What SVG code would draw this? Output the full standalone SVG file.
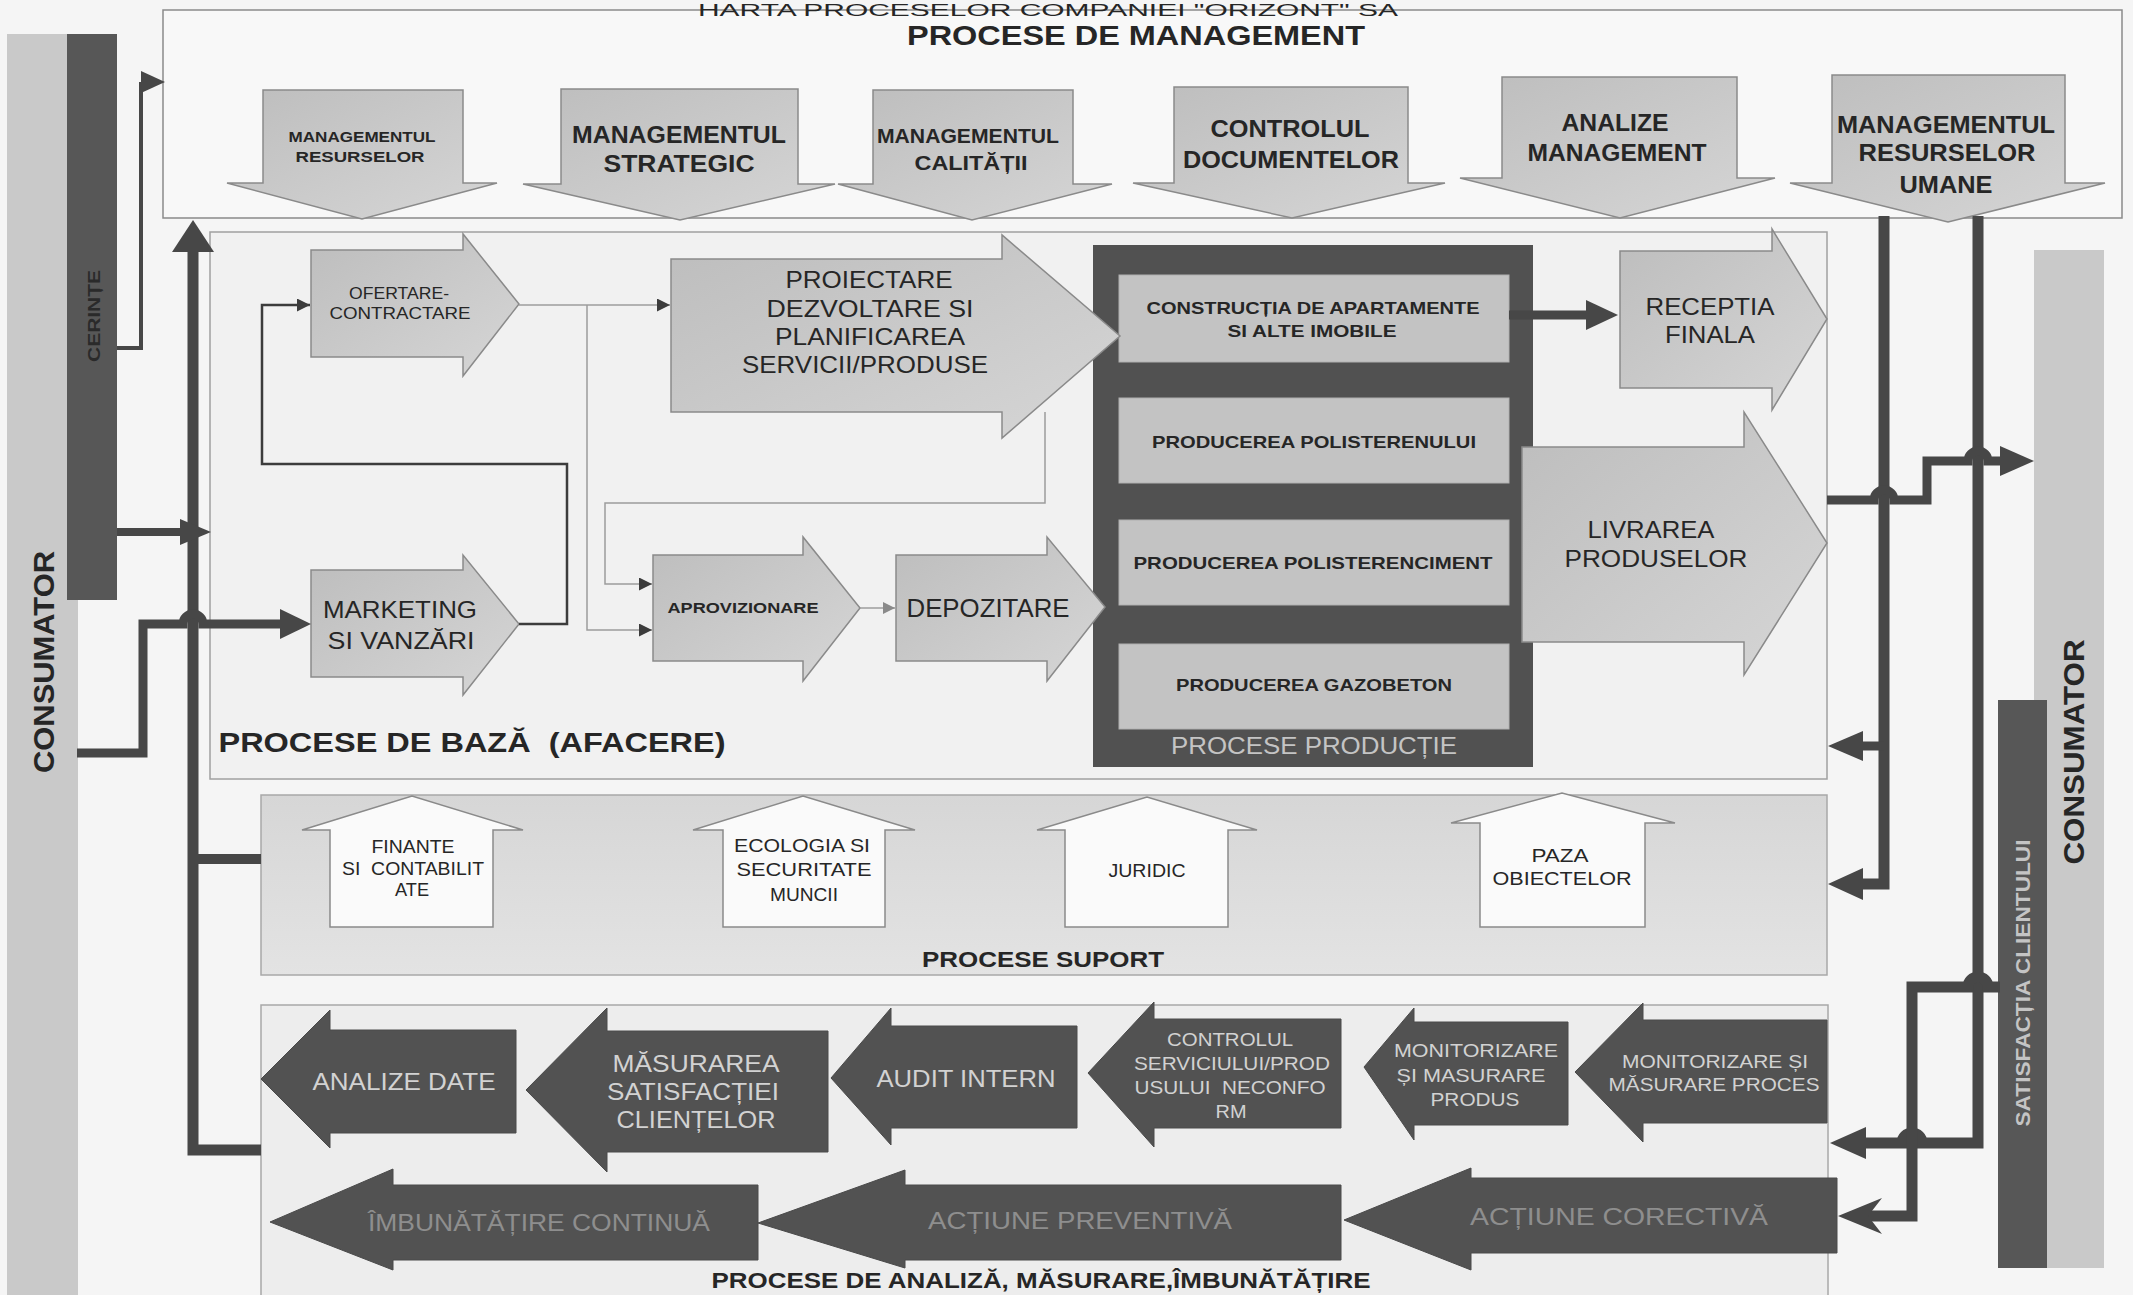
<svg xmlns="http://www.w3.org/2000/svg" width="2133" height="1295" viewBox="0 0 2133 1295">
<defs>
<style>
.t{font-family:"Liberation Sans",Arial,sans-serif;text-anchor:middle;fill:#262626}
.b{font-weight:bold}
.lt{fill:url(#gL);stroke:#8a8a8a;stroke-width:1.5}
.wt{fill:#fafafa;stroke:#8a8a8a;stroke-width:1.5}
.dk{fill:#525252;stroke:#4a4a4a;stroke-width:1}
.pb{fill:#c3c3c3;stroke:#b0b0b0;stroke-width:1}
.dt{fill:#d2d2d2}
.ft{fill:#8e8e8e}
.lg{fill:#c4c4c4}
.c{fill:none;stroke:#474747;stroke-linejoin:miter}
.ah{fill:#474747}
.thin{fill:none;stroke:#9c9c9c;stroke-width:1.5}
.thd{fill:none;stroke:#3c3c3c;stroke-width:2.5}
</style>
<linearGradient id="gL" x1="0" y1="0" x2="1" y2="1">
<stop offset="0" stop-color="#bdbdbd"/><stop offset="1" stop-color="#d6d6d6"/>
</linearGradient>
<linearGradient id="gS" x1="0" y1="0" x2="0" y2="1">
<stop offset="0" stop-color="#d6d6d6"/><stop offset="1" stop-color="#e3e3e3"/>
</linearGradient>
<marker id="mA" viewBox="0 0 10 10" refX="10" refY="5" markerWidth="13" markerHeight="13" markerUnits="userSpaceOnUse" orient="auto">
<path d="M0,0 L10,5 L0,10 z" fill="#3c3c3c"/>
</marker>
<marker id="mG" viewBox="0 0 10 10" refX="10" refY="5" markerWidth="12" markerHeight="12" markerUnits="userSpaceOnUse" orient="auto">
<path d="M0,0 L10,5 L0,10 z" fill="#8a8a8a"/>
</marker>
</defs>
<rect x="0" y="0" width="2133" height="1295" fill="#f5f5f5"/>

<!-- side strips -->
<g id="consumator-left">
<rect x="7" y="34" width="71" height="1261" fill="#c9c9c9"/>
<text class="t b" transform="translate(43,662) rotate(-90)" y="11" font-size="30" textLength="222" lengthAdjust="spacingAndGlyphs">CONSUMATOR</text>
</g>
<g id="cerinte">
<rect x="67" y="34" width="50" height="566" fill="#575757"/>
<text class="t b" transform="translate(94,316) rotate(-90)" y="6" font-size="17" textLength="92" lengthAdjust="spacingAndGlyphs" style="fill:#2a2a2a">CERINȚE</text>
</g>
<g id="consumator-right">
<rect x="2034" y="250" width="70" height="1018" fill="#c9c9c9"/>
<text class="t b" transform="translate(2073,752) rotate(-90)" y="11" font-size="30" textLength="225" lengthAdjust="spacingAndGlyphs">CONSUMATOR</text>
</g>
<g id="satisfactia">
<rect x="1998" y="700" width="49" height="568" fill="#575757"/>
<text class="t b lg" transform="translate(2023,983) rotate(-90)" y="7" font-size="20" textLength="287" lengthAdjust="spacingAndGlyphs">SATISFACȚIA CLIENTULUI</text>
</g>

<!-- management -->
<g id="management">
<rect x="163" y="10" width="1959" height="208" fill="#f8f8f8" stroke="#8a8a8a" stroke-width="1.5"/>
<text class="t" x="1048" y="16" font-size="17" textLength="700" lengthAdjust="spacingAndGlyphs">HARTA PROCESELOR COMPANIEI "ORIZONT" SA</text>
<text class="t b" x="1136" y="45" font-size="28" textLength="458" lengthAdjust="spacingAndGlyphs">PROCESE DE MANAGEMENT</text>
</g>
<g id="m-resurse">
<polygon class="lt" points="263,90 463,90 463,183 497,183 362,219 227,183 263,183"/>
<text class="t b" x="362" y="142" font-size="15" textLength="147" lengthAdjust="spacingAndGlyphs">MANAGEMENTUL</text>
<text class="t b" x="360" y="162" font-size="15" textLength="129" lengthAdjust="spacingAndGlyphs">RESURSELOR</text>
</g>
<g id="m-strategic">
<polygon class="lt" points="561,89 798,89 798,184 835,184 680,220 523,184 561,184"/>
<text class="t b" x="679" y="143" font-size="24" textLength="214" lengthAdjust="spacingAndGlyphs">MANAGEMENTUL</text>
<text class="t b" x="679" y="172" font-size="24" textLength="151" lengthAdjust="spacingAndGlyphs">STRATEGIC</text>
</g>
<g id="m-calitate">
<polygon class="lt" points="873,90 1073,90 1073,184 1112,184 972,220 838,184 873,184"/>
<text class="t b" x="968" y="143" font-size="21" textLength="182" lengthAdjust="spacingAndGlyphs">MANAGEMENTUL</text>
<text class="t b" x="971" y="170" font-size="21" textLength="113" lengthAdjust="spacingAndGlyphs">CALITĂȚII</text>
</g>
<g id="m-documente">
<polygon class="lt" points="1174,87 1408,87 1408,183 1445,183 1292,218 1133,183 1174,183"/>
<text class="t b" x="1290" y="137" font-size="24" textLength="159" lengthAdjust="spacingAndGlyphs">CONTROLUL</text>
<text class="t b" x="1291" y="168" font-size="24" textLength="216" lengthAdjust="spacingAndGlyphs">DOCUMENTELOR</text>
</g>
<g id="m-analize">
<polygon class="lt" points="1502,77 1737,77 1737,178 1775,178 1620,218 1460,178 1502,178"/>
<text class="t b" x="1615" y="131" font-size="24" textLength="107" lengthAdjust="spacingAndGlyphs">ANALIZE</text>
<text class="t b" x="1617" y="161" font-size="24" textLength="179" lengthAdjust="spacingAndGlyphs">MANAGEMENT</text>
</g>
<g id="m-umane">
<polygon class="lt" points="1832,75 2065,75 2065,183 2105,183 1948,222 1790,183 1832,183"/>
<text class="t b" x="1946" y="133" font-size="24" textLength="218" lengthAdjust="spacingAndGlyphs">MANAGEMENTUL</text>
<text class="t b" x="1947" y="161" font-size="24" textLength="177" lengthAdjust="spacingAndGlyphs">RESURSELOR</text>
<text class="t b" x="1946" y="193" font-size="24" textLength="93" lengthAdjust="spacingAndGlyphs">UMANE</text>
</g>

<!-- base processes -->
<g id="baza">
<rect x="210" y="232" width="1617" height="547" fill="#f1f1f1" stroke="#a0a0a0" stroke-width="1.5"/>
<text class="t b" x="472" y="752" font-size="28" textLength="507" lengthAdjust="spacingAndGlyphs">PROCESE DE BAZĂ&#160; (AFACERE)</text>
</g>
<g id="productie">
<rect x="1093" y="245" width="440" height="522" fill="#515151"/>
<text class="t lg" x="1314" y="754" font-size="24" textLength="286" lengthAdjust="spacingAndGlyphs">PROCESE PRODUCȚIE</text>
</g>
<g id="constructia">
<rect class="pb" x="1119" y="275" width="390" height="87"/>
<text class="t b" x="1313" y="314" font-size="17" textLength="333" lengthAdjust="spacingAndGlyphs">CONSTRUCȚIA DE APARTAMENTE</text>
<text class="t b" x="1312" y="337" font-size="17" textLength="169" lengthAdjust="spacingAndGlyphs">SI ALTE IMOBILE</text>
</g>
<g id="polisteren">
<rect class="pb" x="1119" y="398" width="390" height="85"/>
<text class="t b" x="1314" y="448" font-size="17" textLength="324" lengthAdjust="spacingAndGlyphs">PRODUCEREA POLISTERENULUI</text>
</g>
<g id="polisterenciment">
<rect class="pb" x="1119" y="520" width="390" height="85"/>
<text class="t b" x="1313" y="569" font-size="17" textLength="359" lengthAdjust="spacingAndGlyphs">PRODUCEREA POLISTERENCIMENT</text>
</g>
<g id="gazobeton">
<rect class="pb" x="1119" y="644" width="390" height="85"/>
<text class="t b" x="1314" y="691" font-size="17" textLength="276" lengthAdjust="spacingAndGlyphs">PRODUCEREA GAZOBETON</text>
</g>
<g id="ofertare">
<polygon class="lt" points="311,250 463,250 463,234 519,304 463,376 463,357 311,357"/>
<text class="t" x="399" y="299" font-size="17" textLength="100" lengthAdjust="spacingAndGlyphs">OFERTARE-</text>
<text class="t" x="400" y="319" font-size="17" textLength="141" lengthAdjust="spacingAndGlyphs">CONTRACTARE</text>
</g>
<g id="proiectare">
<polygon class="lt" points="671,259 1002,259 1002,235 1120,336 1002,438 1002,412 671,412"/>
<text class="t" x="869" y="288" font-size="24" textLength="167" lengthAdjust="spacingAndGlyphs">PROIECTARE</text>
<text class="t" x="870" y="317" font-size="24" textLength="207" lengthAdjust="spacingAndGlyphs">DEZVOLTARE SI</text>
<text class="t" x="870" y="345" font-size="24" textLength="190" lengthAdjust="spacingAndGlyphs">PLANIFICAREA</text>
<text class="t" x="865" y="373" font-size="24" textLength="246" lengthAdjust="spacingAndGlyphs">SERVICII/PRODUSE</text>
</g>
<g id="marketing">
<polygon class="lt" points="311,570 463,570 463,555 519,624 463,695 463,677 311,677"/>
<text class="t" x="400" y="618" font-size="24" textLength="154" lengthAdjust="spacingAndGlyphs">MARKETING</text>
<text class="t" x="401" y="649" font-size="24" textLength="147" lengthAdjust="spacingAndGlyphs">SI VANZĂRI</text>
</g>
<g id="aprovizionare">
<polygon class="lt" points="653,555 803,555 803,537 860,608 803,681 803,661 653,661"/>
<text class="t b" x="743" y="613" font-size="15" textLength="151" lengthAdjust="spacingAndGlyphs">APROVIZIONARE</text>
</g>
<g id="depozitare">
<polygon class="lt" points="896,555 1047,555 1047,537 1105,607 1047,681 1047,661 896,661"/>
<text class="t" x="988" y="617" font-size="25" textLength="163" lengthAdjust="spacingAndGlyphs">DEPOZITARE</text>
</g>
<g id="receptia">
<polygon class="lt" points="1620,251 1772,251 1772,229 1827,319 1772,410 1772,388 1620,388"/>
<text class="t" x="1710" y="315" font-size="24" textLength="129" lengthAdjust="spacingAndGlyphs">RECEPTIA</text>
<text class="t" x="1710" y="343" font-size="24" textLength="90" lengthAdjust="spacingAndGlyphs">FINALA</text>
</g>
<g id="livrarea">
<polygon class="lt" points="1522,447 1744,447 1744,412 1827,543 1744,675 1744,642 1522,642"/>
<text class="t" x="1651" y="538" font-size="24" textLength="127" lengthAdjust="spacingAndGlyphs">LIVRAREA</text>
<text class="t" x="1656" y="567" font-size="24" textLength="183" lengthAdjust="spacingAndGlyphs">PRODUSELOR</text>
</g>

<!-- support processes -->
<g id="suport">
<rect x="261" y="795" width="1566" height="180" fill="url(#gS)" stroke="#a8a8a8" stroke-width="1.5"/>
<text class="t b" x="1043" y="967" font-size="22" textLength="242" lengthAdjust="spacingAndGlyphs">PROCESE SUPORT</text>
</g>
<g id="finante">
<polygon class="wt" points="330,927 330,830 302,830 412,796 523,830 493,830 493,927"/>
<text class="t" x="413" y="853" font-size="18" textLength="83" lengthAdjust="spacingAndGlyphs">FINANTE</text>
<text class="t" x="413" y="875" font-size="18" textLength="142" lengthAdjust="spacingAndGlyphs">SI&#160; CONTABILIT</text>
<text class="t" x="412" y="896" font-size="18" textLength="34" lengthAdjust="spacingAndGlyphs">ATE</text>
</g>
<g id="ecologia">
<polygon class="wt" points="723,927 723,830 693,830 803,796 915,830 885,830 885,927"/>
<text class="t" x="802" y="852" font-size="18" textLength="136" lengthAdjust="spacingAndGlyphs">ECOLOGIA SI</text>
<text class="t" x="804" y="876" font-size="18" textLength="135" lengthAdjust="spacingAndGlyphs">SECURITATE</text>
<text class="t" x="804" y="901" font-size="18" textLength="68" lengthAdjust="spacingAndGlyphs">MUNCII</text>
</g>
<g id="juridic">
<polygon class="wt" points="1065,927 1065,830 1037,830 1147,797 1257,830 1228,830 1228,927"/>
<text class="t" x="1147" y="877" font-size="18" textLength="77" lengthAdjust="spacingAndGlyphs">JURIDIC</text>
</g>
<g id="paza">
<polygon class="wt" points="1480,927 1480,823 1451,823 1562,793 1675,823 1645,823 1645,927"/>
<text class="t" x="1560" y="862" font-size="18" textLength="57" lengthAdjust="spacingAndGlyphs">PAZA</text>
<text class="t" x="1562" y="885" font-size="18" textLength="139" lengthAdjust="spacingAndGlyphs">OBIECTELOR</text>
</g>

<!-- analysis processes -->
<g id="analiza">
<rect x="261" y="1005" width="1567" height="300" fill="#ededed" stroke="#a8a8a8" stroke-width="1.5"/>
<text class="t b" x="1041" y="1288" font-size="22" textLength="659" lengthAdjust="spacingAndGlyphs">PROCESE DE ANALIZĂ, MĂSURARE,ÎMBUNĂTĂȚIRE</text>
</g>
<g id="analize-date">
<polygon class="dk" points="516,1030 330,1030 330,1010 261,1079 330,1148 330,1133 516,1133"/>
<text class="t dt" x="404" y="1090" font-size="24" textLength="183" lengthAdjust="spacingAndGlyphs">ANALIZE DATE</text>
</g>
<g id="masurarea-satisfactiei">
<polygon class="dk" points="828,1031 607,1031 607,1008 526,1090 607,1172 607,1152 828,1152"/>
<text class="t dt" x="696" y="1072" font-size="24" textLength="167" lengthAdjust="spacingAndGlyphs">MĂSURAREA</text>
<text class="t dt" x="693" y="1100" font-size="24" textLength="172" lengthAdjust="spacingAndGlyphs">SATISFACȚIEI</text>
<text class="t dt" x="696" y="1128" font-size="24" textLength="159" lengthAdjust="spacingAndGlyphs">CLIENȚELOR</text>
</g>
<g id="audit">
<polygon class="dk" points="1077,1026 891,1026 891,1008 831,1078 891,1145 891,1128 1077,1128"/>
<text class="t dt" x="966" y="1087" font-size="24" textLength="179" lengthAdjust="spacingAndGlyphs">AUDIT INTERN</text>
</g>
<g id="controlul-neconform">
<polygon class="dk" points="1341,1019 1154,1019 1154,1002 1088,1073 1154,1147 1154,1128 1341,1128"/>
<text class="t dt" x="1230" y="1046" font-size="19" textLength="126" lengthAdjust="spacingAndGlyphs">CONTROLUL</text>
<text class="t dt" x="1232" y="1070" font-size="19" textLength="196" lengthAdjust="spacingAndGlyphs">SERVICIULUI/PROD</text>
<text class="t dt" x="1230" y="1094" font-size="19" textLength="191" lengthAdjust="spacingAndGlyphs">USULUI&#160; NECONFO</text>
<text class="t dt" x="1231" y="1118" font-size="19" textLength="31" lengthAdjust="spacingAndGlyphs">RM</text>
</g>
<g id="monitorizare-produs">
<polygon class="dk" points="1568,1022 1414,1022 1414,1008 1364,1067 1414,1140 1414,1125 1568,1125"/>
<text class="t dt" x="1476" y="1057" font-size="19" textLength="164" lengthAdjust="spacingAndGlyphs">MONITORIZARE</text>
<text class="t dt" x="1471" y="1082" font-size="19" textLength="149" lengthAdjust="spacingAndGlyphs">ȘI MASURARE</text>
<text class="t dt" x="1475" y="1106" font-size="19" textLength="89" lengthAdjust="spacingAndGlyphs">PRODUS</text>
</g>
<g id="monitorizare-proces">
<polygon class="dk" points="1827,1020 1643,1020 1643,1003 1575,1072 1643,1142 1643,1123 1827,1123"/>
<text class="t dt" x="1715" y="1068" font-size="19" textLength="186" lengthAdjust="spacingAndGlyphs">MONITORIZARE ȘI</text>
<text class="t dt" x="1714" y="1091" font-size="19" textLength="211" lengthAdjust="spacingAndGlyphs">MĂSURARE PROCES</text>
</g>
<g id="imbunatatire">
<polygon class="dk" points="758,1185 393,1185 393,1169 270,1222 393,1270 393,1260 758,1260"/>
<text class="t ft" x="539" y="1231" font-size="24" textLength="342" lengthAdjust="spacingAndGlyphs">ÎMBUNĂTĂȚIRE CONTINUĂ</text>
</g>
<g id="preventiva">
<polygon class="dk" points="1341,1185 905,1185 905,1170 758,1223 905,1268 905,1260 1341,1260"/>
<text class="t ft" x="1080" y="1229" font-size="24" textLength="304" lengthAdjust="spacingAndGlyphs">ACȚIUNE PREVENTIVĂ</text>
</g>
<g id="corectiva">
<polygon class="dk" points="1837,1178 1471,1178 1471,1168 1344,1220 1471,1270 1471,1253 1837,1253"/>
<text class="t ft" x="1619" y="1225" font-size="24" textLength="298" lengthAdjust="spacingAndGlyphs">ACȚIUNE CORECTIVĂ</text>
</g>

<!-- connectors -->
<g id="connectors">
<path class="thin" d="M519,305 H670" marker-end="url(#mA)"/>
<path class="thin" d="M587,305 V630 H652" marker-end="url(#mA)"/>
<path class="thin" d="M1045,412 V503 H605 V584 H652" marker-end="url(#mA)"/>
<path class="thin" d="M860,608 H895" marker-end="url(#mG)"/>
<path class="thd" d="M519,624 H567 V464 H262 V305 H310" marker-end="url(#mA)"/>
<path class="c" stroke-width="4" d="M117,348 H141 V82"/>
<polygon class="ah" points="141,71 165,82 141,93"/>
<path class="c" stroke-width="11" d="M261,1150 H193 V250"/>
<polygon class="ah" points="172,252 193,220 214,252"/>
<path class="c" stroke-width="10" d="M193,859 H261"/>
<path class="c" stroke-width="8" d="M117,532 H184"/>
<polygon class="ah" points="180,519 211,532 180,545"/>
<path class="c" stroke-width="9" d="M77,753 H143 V624 H183 A10,10 0 0 1 203,624 H284"/>
<polygon class="ah" points="280,609 311,624 280,639"/>
<path class="c" stroke-width="9" d="M1509,315 H1590"/>
<polygon class="ah" points="1586,300 1618,315 1586,330"/>
<path class="c" stroke-width="11" d="M1884,216 V884 H1860"/>
<polygon class="ah" points="1863,868 1828,884 1863,900"/>
<path class="c" stroke-width="9" d="M1884,746 H1860"/>
<polygon class="ah" points="1863,731 1828,746 1863,761"/>
<path class="c" stroke-width="11" d="M1978,216 V1143 H1922 A10,10 0 0 0 1902,1143 H1862"/>
<polygon class="ah" points="1866,1127 1830,1143 1866,1159"/>
<path class="c" stroke-width="11" d="M2000,987 H1988 A10,10 0 0 0 1968,987 H1912 V1216 H1866"/>
<polygon class="ah" points="1838,1216 1882,1198 1868,1216 1882,1234"/>
<path class="c" stroke-width="9" d="M1827,500 H1874 A10,10 0 0 1 1894,500 H1927 V461 H1968 A10,10 0 0 1 1988,461 H2002"/>
<polygon class="ah" points="2000,446 2034,461 2000,476"/>
</g>
</svg>
